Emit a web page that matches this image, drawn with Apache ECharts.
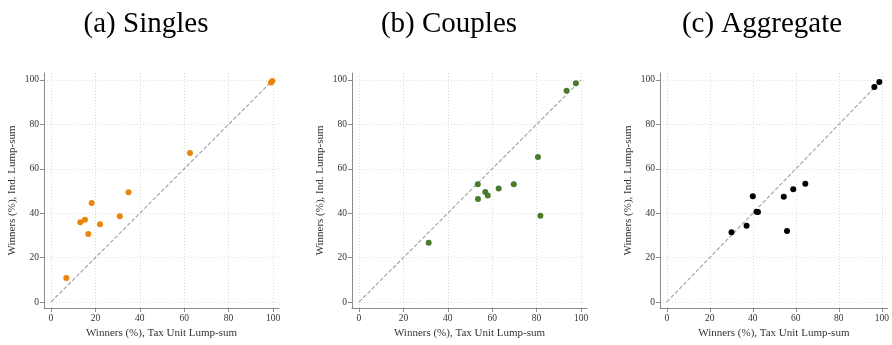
<!DOCTYPE html>
<html><head><meta charset="utf-8">
<script src="https://cdn.jsdelivr.net/npm/echarts@6/dist/echarts.min.js"></script>
<style>html,body{margin:0;padding:0;background:#fff}#c{width:892px;height:345px}</style>
</head><body><div id="c"></div>
<script>
const panelTitles = ['(a) Singles', '(b) Couples', '(c) Aggregate'];
const xAxisName = 'Winners (%), Tax Unit Lump-sum';
const yAxisName = 'Winners (%), Ind. Lump-sum';
const tickValues = [0, 20, 40, 60, 80, 100];
const diagonal = [[0, 0], [100, 100]];
const singles = [[6.9,10.8],[13.2,35.9],[15.3,37.1],[16.8,30.6],[18.3,44.6],[22.1,35.0],[31.0,38.6],[34.9,49.4],[62.6,67.1],[99.1,98.9],[99.7,99.5]];
const couples = [[31.4,26.7],[53.5,53.0],[53.6,46.4],[56.9,49.5],[58.0,48.0],[62.9,51.1],[69.7,53.0],[80.6,65.3],[81.7,38.9],[93.5,95.2],[97.7,98.5]];
const aggregate = [[30.1,31.4],[37.1,34.4],[40.0,47.6],[41.7,40.7],[42.4,40.5],[54.4,47.4],[55.9,32.0],[58.8,50.8],[64.4,53.3],[96.5,96.8],[98.8,99.1]];
const seriesData = [singles, couples, aggregate];
const colors = ['#E8850C', '#4B7A2C', '#000000'];

const gridLefts = [44, 352, 660];
const titleCenters = [141, 444, 757];
const font = 'Liberation Serif';

const grids = [], xAxes = [], yAxes = [], series = [], titles = [];
for (let i = 0; i < 3; i++) {
  grids.push({left: gridLefts[i], top: 73, width: 235, height: 235, containLabel: false});
  titles.push({text: panelTitles[i], left: titleCenters[i], top: 5, textAlign: 'center',
    textStyle: {fontFamily: font, fontSize: 29, fontWeight: 'normal', color: '#000'}});
  const axisCommon = {
    type: 'value',
    axisLine: {show: true, onZero: false, lineStyle: {color: '#8a8a8a', width: 1}},
    axisTick: {show: true, length: 4, inside: false, customValues: tickValues, lineStyle: {color: '#8a8a8a'}},
    axisLabel: {customValues: tickValues, fontFamily: font, fontSize: 9.5, color: '#333', margin: 5},
    splitLine: {show: true, lineStyle: {color: '#dcdcdc', type: [1, 2], width: 1}},
    nameTextStyle: {fontFamily: font, fontSize: 11, color: '#333'}
  };
  xAxes.push(Object.assign({}, axisCommon, {gridIndex: i, min: -3.15, max: 102.7,
    name: xAxisName, nameLocation: 'middle', nameGap: 17, position: 'bottom'}));
  yAxes.push(Object.assign({}, axisCommon, {gridIndex: i, min: -2.7, max: 103.15,
    name: yAxisName, nameLocation: 'middle', nameGap: 26, position: 'left'}));
  series.push({type: 'line', xAxisIndex: i, yAxisIndex: i, data: diagonal, showSymbol: false, symbol: 'none',
    lineStyle: {color: '#a0a0a0', width: 1.1, type: [4, 2]}, silent: true, z: 1});
  series.push({type: 'scatter', xAxisIndex: i, yAxisIndex: i, data: seriesData[i], symbolSize: 6,
    itemStyle: {color: colors[i], opacity: 1}, z: 3});
}
const chart = echarts.init(document.getElementById('c'), null, {renderer: 'canvas'});
chart.setOption({animation: false, backgroundColor: '#fff', title: titles, grid: grids, xAxis: xAxes, yAxis: yAxes, series: series});
</script></body></html>
